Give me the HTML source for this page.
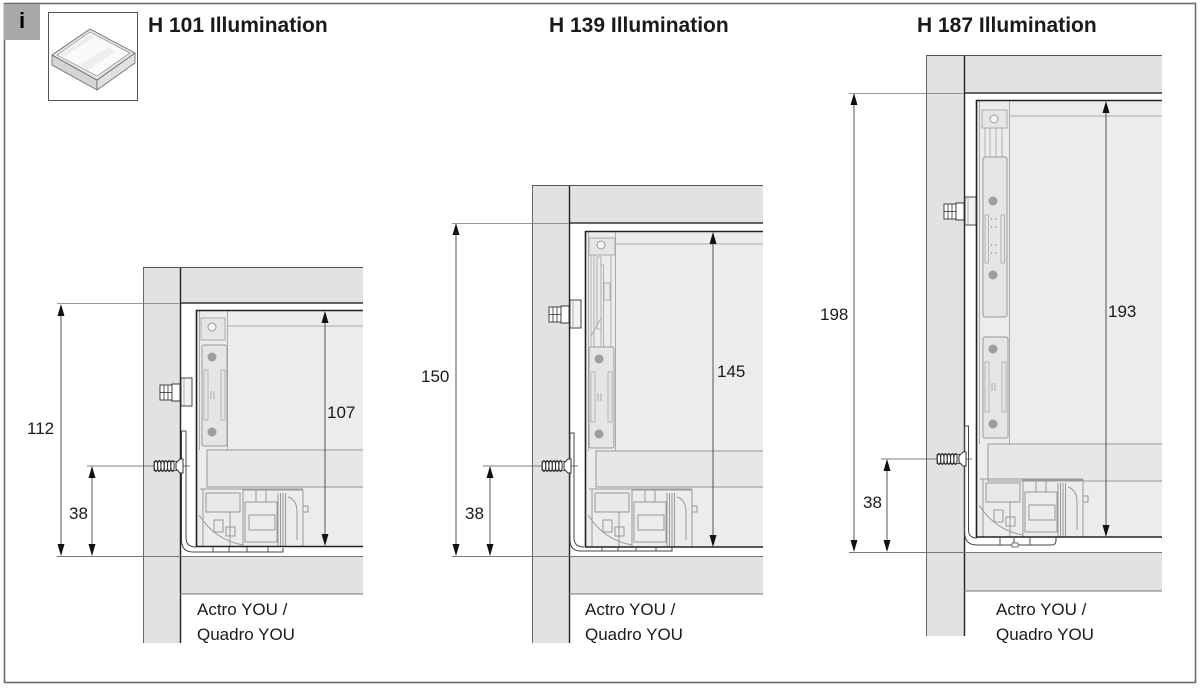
<!DOCTYPE html>
<html><head><meta charset="utf-8"><style>
html,body{margin:0;padding:0;background:#fff;}
svg{display:block;}
text{font-family:"Liberation Sans",sans-serif;fill:#1a1a1a;}
.t{font-size:21px;font-weight:bold;}
.d{font-size:17px;}
.l{font-size:17px;}
</style></head><body>
<svg width="1200" height="688" viewBox="0 0 1200 688" xmlns="http://www.w3.org/2000/svg">
<defs>
 <g id="screw">
  <rect x="1" y="-4.5" width="23" height="9" fill="#fff" stroke="#333" stroke-width="0.8"/>
  <g fill="none" stroke="#333" stroke-width="1">
   <ellipse cx="3" cy="0" rx="1.7" ry="5.5"/>
   <ellipse cx="6.3" cy="0" rx="1.7" ry="5.5"/>
   <ellipse cx="9.6" cy="0" rx="1.7" ry="5.5"/>
   <ellipse cx="12.9" cy="0" rx="1.7" ry="5.5"/>
   <ellipse cx="16.2" cy="0" rx="1.7" ry="5.5"/>
   <ellipse cx="19.5" cy="0" rx="1.7" ry="5.5"/>
  </g>
  <path d="M23 -3 L27 -7 H30 V7 H27 L23 3 Z" fill="#fff" stroke="#333" stroke-width="1"/>
 </g>
 <g id="dowel">
  <rect x="1" y="7" width="12" height="15" fill="#fff" stroke="#333" stroke-width="0.9"/>
  <line x1="1" y1="14.5" x2="13" y2="14.5" stroke="#333" stroke-width="0.8"/>
  <line x1="5" y1="7" x2="5" y2="22" stroke="#333" stroke-width="0.8"/>
  <line x1="9" y1="7" x2="9" y2="22" stroke="#333" stroke-width="0.8"/>
  <path d="M13 6 H21 V23 H13 Z" fill="#fff" stroke="#333" stroke-width="0.9"/>
  <rect x="22" y="0" width="11" height="28" fill="#f3f3f3" stroke="#333" stroke-width="0.9"/>
  <line x1="25" y1="1" x2="25" y2="27" stroke="#888" stroke-width="0.6"/>
 </g>
 <g id="plate">
  <rect x="0" y="0" width="25" height="101" rx="2" fill="#e5e5e5" stroke="#9a9a9a"/>
  <circle cx="10" cy="12" r="4.5" fill="#9d9d9d"/>
  <circle cx="10" cy="87" r="4.5" fill="#9d9d9d"/>
  <rect x="2" y="25" width="4" height="50" fill="none" stroke="#aaa" stroke-width="0.8"/>
  <rect x="19" y="25" width="4" height="50" fill="none" stroke="#aaa" stroke-width="0.8"/>
  <line x1="9" y1="46" x2="9" y2="54" stroke="#aaa"/>
  <line x1="12" y1="46" x2="12" y2="54" stroke="#aaa"/>
 </g>
 <g id="mech" fill="none" stroke="#999" stroke-width="1">
  <line x1="200" y1="489" x2="303" y2="489"/>
  <rect x="206" y="493" width="34" height="19" fill="#e8e8e8"/>
  <path d="M243 547 V490 H303 V547"/>
  <rect x="303" y="506" width="5" height="6"/>
  <rect x="245" y="502" width="32" height="40"/>
  <rect x="249" y="515" width="26" height="15"/>
  <path d="M278 493 V547 M280.5 493 V547 M283 493 V547 M285.5 493 V547"/>
  <path d="M288 497 Q297 500 297 512 V540"/>
  <path d="M199 515 Q215 540 243 545"/>
  <rect x="214" y="520" width="9" height="12"/>
  <rect x="226" y="527" width="9" height="9"/>
  <path d="M256 490 V502 M266 490 V502"/>
  <path d="M230 512 V547"/>
  <path d="M203 489 V547"/>
 </g>
</defs>

<!-- frame -->
<rect x="4.5" y="3.5" width="1191" height="679" fill="none" stroke="#6e6e6e" stroke-width="1.6"/>
<rect x="4" y="4" width="36" height="36" fill="#a9a9a9"/>
<text x="22" y="28" text-anchor="middle" fill="#000" style="font-size:22px;font-weight:bold;fill:#000">i</text>

<!-- icon -->
<rect x="48.5" y="12.5" width="89" height="88" fill="#fff" stroke="#555" stroke-width="1"/>
<polygon points="52,55 97,80 97,90 52,65" fill="#d4d4d4" stroke="#666" stroke-width="0.8"/>
<polygon points="97,80 135,53 135,63 97,90" fill="#e0e0e0" stroke="#666" stroke-width="0.8"/>
<polygon points="52,55 90,29 135,53 97,80" fill="#e6e6e6" stroke="#666" stroke-width="0.8"/>
<polygon points="57,55 90,32 130,53 97,76" fill="#fafafa" stroke="#888" stroke-width="0.7"/>
<polygon points="60,55 90,35 94,37 64,57" fill="#ececec"/>
<polygon points="80,65 108,47 116,51 88,70" fill="#eeeeee"/>

<!-- titles -->
<text class="t" x="148" y="32">H 101 Illumination</text>
<text class="t" x="549" y="32">H 139 Illumination</text>
<text class="t" x="917" y="32">H 187 Illumination</text>

<!-- ================= D1 ================= -->
<rect x="143" y="267" width="37" height="376" fill="#e2e2e2"/>
<rect x="180" y="267" width="183" height="36" fill="#e2e2e2"/>
<rect x="180" y="556" width="183" height="38" fill="#e2e2e2"/>
<line x1="143.5" y1="267" x2="143.5" y2="643" stroke="#666"/>
<line x1="180.5" y1="267" x2="180.5" y2="643" stroke="#222" stroke-width="1.4"/>
<line x1="143" y1="267.5" x2="363" y2="267.5" stroke="#555"/>
<line x1="180" y1="303" x2="363" y2="303" stroke="#333" stroke-width="1.5"/>
<line x1="57" y1="303.5" x2="180" y2="303.5" stroke="#777" stroke-width="0.8"/>
<line x1="57" y1="556.5" x2="363" y2="556.5" stroke="#777" stroke-width="0.9"/>
<line x1="180" y1="594" x2="363" y2="594" stroke="#777"/>
<!-- drawer -->
<rect x="196" y="310" width="167" height="237" fill="#ececec"/>
<line x1="228" y1="326" x2="363" y2="326" stroke="#aaa"/>
<line x1="199.5" y1="311" x2="199.5" y2="450" stroke="#aaa"/>
<line x1="227.5" y1="311" x2="227.5" y2="450" stroke="#aaa"/>
<rect x="201" y="318" width="24" height="22" fill="#e6e6e6" stroke="#aaa"/>
<circle cx="212" cy="327" r="4" fill="#f4f4f4" stroke="#999"/>
<use href="#plate" transform="translate(202,345)"/>
<path d="M363 450 H207 V487 H363" fill="#e7e7e7" stroke="#999"/>
<use href="#mech"/>
<path d="M363 310.5 H196.5 V546.5 H363" fill="none" stroke="#222" stroke-width="1.6"/>
<!-- bracket -->
<path d="M181.5 431 V540 Q181.5 552 193 552 H283 V548" fill="none" stroke="#444"/>
<path d="M181.5 431 H186 V538 Q186 547 196 547" fill="none" stroke="#444"/>
<path d="M213 547 V552 M229 547 V552 M247 547 V552 M268 547 V552" stroke="#555"/>
<use href="#dowel" transform="translate(159,378)"/>
<line x1="87" y1="466" x2="190" y2="466" stroke="#555" stroke-width="0.8"/>
<use href="#screw" transform="translate(153,466)"/>
<!-- dims -->
<g stroke="#444" stroke-width="0.9">
 <line x1="61" y1="306" x2="61" y2="554"/>
 <line x1="92" y1="468" x2="92" y2="554"/>
 <line x1="325" y1="313" x2="325" y2="544"/>
</g>
<g fill="#111">
 <polygon points="61,304 57.5,316 64.5,316"/><polygon points="61,556 57.5,544 64.5,544"/>
 <polygon points="92,466 88.5,478 95.5,478"/><polygon points="92,556 88.5,544 95.5,544"/>
 <polygon points="325,311 321.5,323 328.5,323"/><polygon points="325,546 321.5,534 328.5,534"/>
</g>
<text class="d" x="27" y="434">112</text>
<text class="d" x="69" y="519">38</text>
<text class="d" x="327" y="418">107</text>
<text class="l" x="197" y="615">Actro YOU /</text>
<text class="l" x="197" y="640">Quadro YOU</text>

<!-- ================= D2 ================= -->
<rect x="532" y="185" width="37" height="458" fill="#e2e2e2"/>
<rect x="569" y="185" width="194" height="38" fill="#e2e2e2"/>
<rect x="569" y="556" width="194" height="38" fill="#e2e2e2"/>
<line x1="532.5" y1="185" x2="532.5" y2="643" stroke="#666"/>
<line x1="569.5" y1="185" x2="569.5" y2="643" stroke="#222" stroke-width="1.4"/>
<line x1="532" y1="185.5" x2="763" y2="185.5" stroke="#555"/>
<line x1="569" y1="223" x2="763" y2="223" stroke="#333" stroke-width="1.5"/>
<line x1="452" y1="223.5" x2="569" y2="223.5" stroke="#777" stroke-width="0.8"/>
<line x1="452" y1="556.5" x2="763" y2="556.5" stroke="#777" stroke-width="0.9"/>
<line x1="569" y1="594" x2="763" y2="594" stroke="#777"/>
<rect x="585" y="231" width="178" height="316" fill="#ececec"/>
<line x1="616" y1="244" x2="763" y2="244" stroke="#aaa"/>
<line x1="588.5" y1="232" x2="588.5" y2="451" stroke="#aaa"/>
<line x1="615.5" y1="232" x2="615.5" y2="451" stroke="#aaa"/>
<rect x="589" y="238" width="26" height="17" fill="#e6e6e6" stroke="#aaa"/>
<circle cx="601" cy="245" r="4" fill="#f4f4f4" stroke="#999"/>
<g fill="none" stroke="#aaa" stroke-width="0.9">
 <line x1="591" y1="255" x2="591" y2="347"/>
 <line x1="594" y1="255" x2="594" y2="347"/>
 <rect x="597" y="257" width="4" height="72"/>
 <rect x="601" y="265" width="2.5" height="85"/>
 <rect x="604" y="283" width="6" height="17"/>
 <line x1="591" y1="336" x2="601" y2="318"/>
 <line x1="611" y1="255" x2="611" y2="347"/>
</g>
<use href="#plate" transform="translate(589,347)"/>
<path d="M763 451 H596 V487 H763" fill="#e7e7e7" stroke="#999"/>
<use href="#mech" transform="translate(389,0)"/>
<path d="M763 231.5 H585.5 V547 H763" fill="none" stroke="#222" stroke-width="1.6"/>
<path d="M570 433 V540 Q570 551 581 551 H672 V548" fill="none" stroke="#444"/>
<path d="M570 433 H574 V538 Q574 547 584 547" fill="none" stroke="#444"/>
<path d="M602 547 V551 M618 547 V551 M636 547 V551 M656 547 V551" stroke="#555"/>
<use href="#dowel" transform="translate(548,300)"/>
<line x1="483" y1="466" x2="578" y2="466" stroke="#555" stroke-width="0.8"/>
<use href="#screw" transform="translate(541,466)"/>
<g stroke="#444" stroke-width="0.9">
 <line x1="456" y1="225" x2="456" y2="554"/>
 <line x1="490" y1="468" x2="490" y2="554"/>
 <line x1="713" y1="234" x2="713" y2="545"/>
</g>
<g fill="#111">
 <polygon points="456,223 452.5,235 459.5,235"/><polygon points="456,556 452.5,544 459.5,544"/>
 <polygon points="490,466 486.5,478 493.5,478"/><polygon points="490,556 486.5,544 493.5,544"/>
 <polygon points="713,232 709.5,244 716.5,244"/><polygon points="713,547 709.5,535 716.5,535"/>
</g>
<text class="d" x="421" y="382">150</text>
<text class="d" x="465" y="519">38</text>
<text class="d" x="717" y="377">145</text>
<text class="l" x="585" y="615">Actro YOU /</text>
<text class="l" x="585" y="640">Quadro YOU</text>

<!-- ================= D3 ================= -->
<rect x="926" y="55" width="38" height="581" fill="#e2e2e2"/>
<rect x="964" y="55" width="198" height="38" fill="#e2e2e2"/>
<rect x="964" y="552" width="198" height="39" fill="#e2e2e2"/>
<line x1="926.5" y1="55" x2="926.5" y2="636" stroke="#666"/>
<line x1="964.5" y1="55" x2="964.5" y2="636" stroke="#222" stroke-width="1.4"/>
<line x1="926" y1="55.5" x2="1162" y2="55.5" stroke="#555"/>
<line x1="964" y1="93" x2="1162" y2="93" stroke="#333" stroke-width="1.5"/>
<line x1="849" y1="93.5" x2="964" y2="93.5" stroke="#777" stroke-width="0.8"/>
<line x1="849" y1="552.5" x2="1162" y2="552.5" stroke="#777" stroke-width="0.9"/>
<line x1="964" y1="591" x2="1162" y2="591" stroke="#777"/>
<rect x="976" y="100" width="186" height="437" fill="#ececec"/>
<line x1="1010" y1="116" x2="1162" y2="116" stroke="#aaa"/>
<line x1="979.5" y1="101" x2="979.5" y2="444" stroke="#aaa"/>
<line x1="1009.5" y1="101" x2="1009.5" y2="444" stroke="#aaa"/>
<rect x="982" y="110" width="25" height="18" fill="#e6e6e6" stroke="#aaa"/>
<circle cx="994" cy="119" r="4" fill="#f4f4f4" stroke="#999"/>
<g fill="none" stroke="#aaa" stroke-width="0.9">
 <line x1="985" y1="128" x2="985" y2="157"/>
 <line x1="990" y1="128" x2="990" y2="157"/>
 <line x1="996" y1="128" x2="996" y2="157"/>
 <line x1="1002" y1="128" x2="1002" y2="157"/>
</g>
<rect x="983" y="157" width="24" height="160" rx="2" fill="#e5e5e5" stroke="#9a9a9a"/>
<circle cx="993" cy="201" r="4.5" fill="#9d9d9d"/>
<circle cx="993" cy="275" r="4.5" fill="#9d9d9d"/>
<rect x="985" y="215" width="3.5" height="48" fill="none" stroke="#aaa" stroke-width="0.8"/>
<rect x="1001" y="215" width="3.5" height="48" fill="none" stroke="#aaa" stroke-width="0.8"/>
<g fill="#aaa">
 <rect x="991" y="218" width="1.2" height="2"/><rect x="995" y="218" width="1.2" height="2"/>
 <rect x="991" y="226" width="1.2" height="2"/><rect x="995" y="226" width="1.2" height="2"/>
 <rect x="991" y="244" width="1.2" height="2"/><rect x="995" y="244" width="1.2" height="2"/>
 <rect x="991" y="252" width="1.2" height="2"/><rect x="995" y="252" width="1.2" height="2"/>
</g>
<use href="#plate" transform="translate(983,337)"/>
<path d="M1162 444 H988 V481 H1162" fill="#e7e7e7" stroke="#999"/>
<use href="#mech" transform="translate(780,-10)"/>
<path d="M1162 100.5 H976.5 V537 H1162" fill="none" stroke="#222" stroke-width="1.6"/>
<path d="M964.5 426 V532 Q964.5 545 977 545 H1052 Q1056 545 1056 540 V537" fill="none" stroke="#444"/>
<path d="M964.5 426 H968.5 V530 Q968.5 538 977 538" fill="none" stroke="#444"/>
<path d="M1000 537 V545 M1014 537 V545 M1030 537 V545" stroke="#555"/>
<rect x="1012" y="543" width="6" height="4" fill="#fff" stroke="#555" stroke-width="0.8"/>
<use href="#dowel" transform="translate(943,197)"/>
<line x1="881" y1="459" x2="972" y2="459" stroke="#555" stroke-width="0.8"/>
<use href="#screw" transform="translate(936,459)"/>
<g stroke="#444" stroke-width="0.9">
 <line x1="854" y1="95" x2="854" y2="550"/>
 <line x1="887" y1="461" x2="887" y2="550"/>
 <line x1="1106" y1="103" x2="1106" y2="535"/>
</g>
<g fill="#111">
 <polygon points="854,93 850.5,105 857.5,105"/><polygon points="854,552 850.5,540 857.5,540"/>
 <polygon points="887,459 883.5,471 890.5,471"/><polygon points="887,552 883.5,540 890.5,540"/>
 <polygon points="1106,101 1102.5,113 1109.5,113"/><polygon points="1106,537 1102.5,525 1109.5,525"/>
</g>
<text class="d" x="820" y="320">198</text>
<text class="d" x="863" y="508">38</text>
<text class="d" x="1108" y="317">193</text>
<text class="l" x="996" y="615">Actro YOU /</text>
<text class="l" x="996" y="640">Quadro YOU</text>
</svg>
</body></html>
